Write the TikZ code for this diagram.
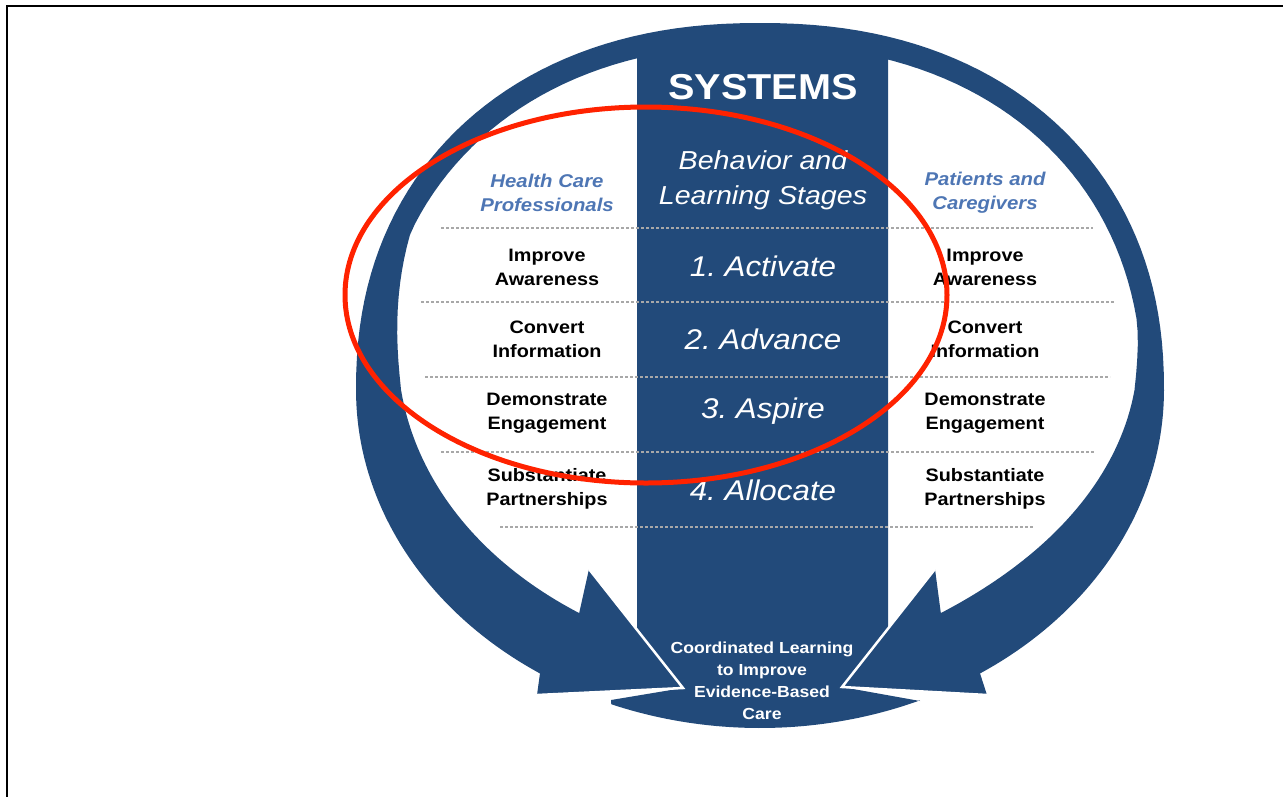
\documentclass[tikz,border=0pt]{standalone}
\usepackage{fontspec}
\setmainfont{Liberation Sans}[FakeStretch=1.1]
\definecolor{navy}{RGB}{34,74,122}
\definecolor{steel}{RGB}{78,118,180}
\definecolor{dotgray}{RGB}{168,168,168}
\definecolor{marker}{RGB}{255,34,0}
\frenchspacing
\begin{document}
\begin{tikzpicture}[x=1pt,y=-1pt,
  declare function={
    tx(\t,\w)=760+(404-\w)*cos(\t)*(abs(cos(\t))+0.00001)^(-0.0909);
    ty(\t,\w)=390-(367-\w)*sin(\t)*(abs(sin(\t))+0.00001)^(-0.0909);
    bx(\t,\w)=760+(404-\w)*cos(\t);
    by(\t,\w)=390-(338-\w)*sin(\t);
    wr(\t)=22+50*(max(sin(90*min(max((10-\t)/67,0),1)),0.0001))^1.3;
    wl(\t)=22+50*(max(sin(90*min(max((\t-155)/82,0),1)),0.0001));
  },
  arc/.style={variable=\t,samples=45},
  lbl/.style={font=\fontsize{18}{24}\selectfont\bfseries,align=center,inner sep=0pt,text=black},
  grp/.style={font=\fontsize{18.5}{24}\selectfont\bfseries\itshape,align=center,inner sep=0pt,text=steel},
  stage/.style={font=\fontsize{28.5}{34}\selectfont\itshape,inner sep=0pt,text=white},
  sep/.style={draw=dotgray,line width=2pt,dash pattern=on 3pt off 2pt},
  cut/.style={draw=white,line width=2.5pt,line join=miter}]
\useasboundingbox (0,0) rectangle (1283,796);

% central column merged with the bottom cap
\fill[navy] (637,45) -- (888,45) -- (888,640) -- (842,687) -- (920,701)
  -- plot[arc,domain=-66.7:-111.6] ({bx(\t,0)},{by(\t,0)})
  -- (611,700) -- (683,688) -- (637,640) -- cycle;

% right curved arrow
\fill[navy] plot[arc,domain=90:0] ({tx(\t,0)},{ty(\t,0)})
  -- plot[arc,domain=0:-57] ({bx(\t,0)},{by(\t,0)})
  -- (987,695) -- (842,687) -- (935,569)
  -- plot[arc,domain=-57:0] ({bx(\t,wr(\t))},{by(\t,wr(\t))})
  -- plot[arc,domain=0:90] ({tx(\t,wr(\t))},{ty(\t,wr(\t))}) -- cycle;

% left curved arrow
\fill[navy] plot[arc,domain=90:180] ({tx(\t,0)},{ty(\t,0)})
  -- plot[arc,domain=180:237] ({bx(\t,0)},{by(\t,0)})
  -- (537,695) -- (683,688) -- (589,569)
  -- plot[arc,domain=237:180] ({bx(\t,wl(\t))},{by(\t,wl(\t))})
  -- plot[arc,domain=180:90] ({tx(\t,wl(\t))},{ty(\t,wl(\t))}) -- cycle;

% white cuts between arrowheads and the column
\coordinate (lb) at (589,569); \coordinate (lt) at (683,688); \coordinate (ll) at (537,695);
\coordinate (rb) at (935,569); \coordinate (rt) at (842,687); \coordinate (rl) at (987,695);
\draw[cut] (lb) -- (lt) -- (ll);
\draw[cut] (rb) -- (rt) -- (rl);

% dotted row separators
\coordinate (s1a) at (441,228); \coordinate (s1b) at (1093,228);
\coordinate (s2a) at (421,302); \coordinate (s2b) at (1115,302);
\coordinate (s3a) at (425,377); \coordinate (s3b) at (1110,377);
\coordinate (s4a) at (441,452); \coordinate (s4b) at (1094,452);
\coordinate (s5a) at (500,527); \coordinate (s5b) at (1033,527);
\draw[sep] (s1a) -- (s1b);
\draw[sep] (s2a) -- (s2b);
\draw[sep] (s3a) -- (s3b);
\draw[sep] (s4a) -- (s4b);
\draw[sep] (s5a) -- (s5b);

% headings
\node[font=\fontsize{36}{36}\selectfont\bfseries,text=white,inner sep=0pt] (sys) at (763,87) {SYSTEMS};
\node[font=\fontsize{26}{35}\selectfont\itshape,text=white,align=center,inner sep=0pt] (bls) at (763,180) {Behavior and\\Learning Stages};
\node[grp] (hcp) at (547,193) {Health Care\\Professionals};
\node[grp] (pcg) at (985,193) {Patients and\\Caregivers};

% stages
\node[stage] (st1) at (763,266) {1. Activate};
\node[stage] (st2) at (763,339) {2. Advance};
\node[stage] (st3) at (763,411) {3. Aspire};
\node[stage] (st4) at (763,490) {4. Allocate};

% left column
\node[lbl] (l1) at (547,267) {Improve\\Awareness};
\node[lbl] (l2) at (547,339) {Convert\\Information};
\node[lbl] (l3) at (547,413) {Demonstrate\\Engagement};
\node[lbl] (l4) at (547,489) {Substantiate\\Partnerships};

% right column
\node[lbl] (r1) at (985,267) {Improve\\Awareness};
\node[lbl] (r2) at (985,339) {Convert\\Information};
\node[lbl] (r3) at (985,413) {Demonstrate\\Engagement};
\node[lbl] (r4) at (985,489) {Substantiate\\Partnerships};

% goal at the bottom
\node[font=\fontsize{16}{22}\selectfont\bfseries,text=white,align=center,inner sep=0pt] (goal) at (762,681)
  {Coordinated Learning\\to Improve\\Evidence-Based\\Care};

% red highlight ellipse
\draw[marker,line width=5pt] (646,295) ellipse [x radius=301, y radius=188];

% frame edges
\draw[black,line width=2.5pt] (7,800) -- (7,6) -- (1290,6);
\end{tikzpicture}
\end{document}
